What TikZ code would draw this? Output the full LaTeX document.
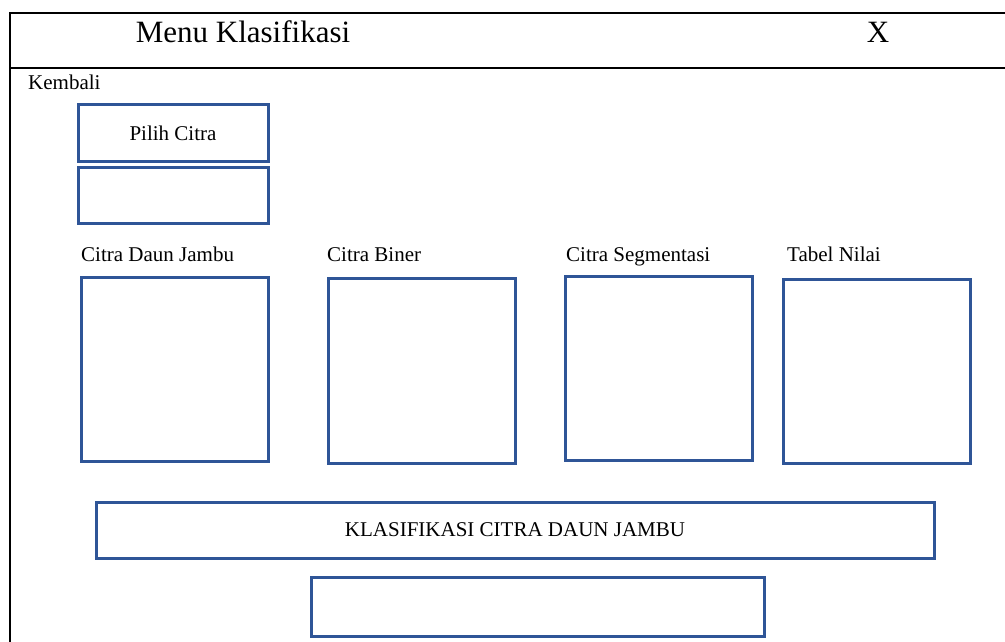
\documentclass[tikz,border=0pt]{standalone}
\usepackage{fontspec}
\setmainfont{Liberation Serif}
\definecolor{boxblue}{RGB}{47,85,151}
\begin{document}
\begin{tikzpicture}[x=1pt,y=-1pt,
  frame/.style={draw=black,line width=2.4pt},
  panel/.style={draw=boxblue,line width=3pt,rectangle,inner sep=0pt,
    font=\fontsize{21}{25}\selectfont},
  label/.style={inner sep=0pt,anchor=base west,font=\fontsize{21}{25}\selectfont},
  heading/.style={inner sep=0pt,anchor=base,font=\fontsize{31}{36}\selectfont}]
\useasboundingbox (0,0) rectangle (1005,642);
\fill[white] (0,0) rectangle (1005,642);

% window frame and title bar
\coordinate (tr) at (1005,13);
\coordinate (tl) at (10,13);
\coordinate (bl) at (10,642);
\coordinate (hl) at (10,68);
\coordinate (hr) at (1005,68);
\draw[frame] (tr) -- (tl) -- (bl);
\draw[frame] (hl) -- (hr);
\node[heading] (title) at (243,43) {Menu Klasifikasi};
\node[heading] (close) at (878,43) {X};

% back link and image picker
\node[label] (back) at (28,89) {Kembali};
\node[panel,minimum width=190pt,minimum height=56pt] (pick) at (173,133) {Pilih Citra};
\node[panel,minimum width=190pt,minimum height=56pt] (path) at (173,195) {};

% image panels
\node[label] (l1) at (81,261) {Citra Daun Jambu};
\node[label] (l2) at (327,261) {Citra Biner};
\node[label] (l3) at (566,261) {Citra Segmentasi};
\node[label] (l4) at (787,261) {Tabel Nilai};
\node[panel,minimum width=187pt,minimum height=184pt] (img) at (175,369) {};
\node[panel,minimum width=187pt,minimum height=185pt] (bin) at (422,370.5) {};
\node[panel,minimum width=187pt,minimum height=184pt] (seg) at (658.5,368.5) {};
\node[panel,minimum width=187pt,minimum height=184pt] (tab) at (876.5,371) {};

% classify button and result
\node[panel,minimum width=838pt,minimum height=56pt] (classify) at (515,530) {KLASIFIKASI CITRA DAUN JAMBU};
\node[panel,minimum width=453pt,minimum height=59pt] (result) at (537.5,606.5) {};
\end{tikzpicture}
\end{document}
